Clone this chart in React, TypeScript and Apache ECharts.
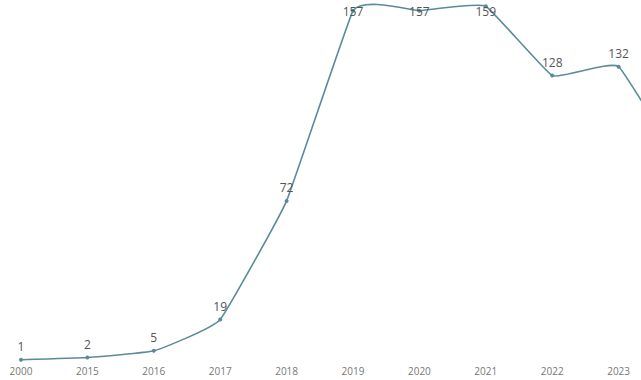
import React, { useEffect, useRef } from "react";
import * as echarts from "echarts";

const years = ["2000", "2015", "2016", "2017", "2018", "2019", "2020", "2021", "2022", "2023", "2024"];
const counts = [1, 2, 5, 19, 72, 157, 157, 159, 128, 132, 85];

const LINE_COLOR = "#5a8b9a";
const SMOOTH = 0.1;
const LABEL_CENTER_MIN = 11; // labels never rise above this centre line

type Pt = number[];

// Spline through the points: the tangent at each point follows its two
// neighbours, and each handle is scaled by the length of the opposite segment.
function smoothPath(points: Pt[], smooth: number): string {
  if (!points.length) return "";
  let d = `M${points[0][0]},${points[0][1]}`;
  let cp0: Pt = points[0].slice();
  for (let i = 1; i < points.length; i++) {
    const p = points[i];
    const prev = points[i - 1];
    const next = points[i + 1];
    let cp1: Pt;
    let nextCp0: Pt = p.slice();
    if (next) {
      const vx = next[0] - prev[0];
      const vy = next[1] - prev[1];
      const lp = Math.hypot(p[0] - prev[0], p[1] - prev[1]);
      const ln = Math.hypot(next[0] - p[0], next[1] - p[1]);
      const sum = lp + ln || 1;
      const kin = (smooth * ln) / sum;
      const kout = (smooth * lp) / sum;
      cp1 = [p[0] - vx * kin, p[1] - vy * kin];
      nextCp0 = [p[0] + vx * kout, p[1] + vy * kout];
    } else {
      cp1 = p.slice();
    }
    d += ` C${cp0[0]},${cp0[1]} ${cp1[0]},${cp1[1]} ${p[0]},${p[1]}`;
    cp0 = nextCp0;
  }
  return d;
}

export default function App() {
  const ref = useRef<HTMLDivElement>(null);

  useEffect(() => {
    if (!ref.current) return;
    const chart = echarts.init(ref.current, null, { renderer: "svg" });
    chart.setOption({
      animation: false,
      backgroundColor: "#ffffff",
      grid: { left: 21, right: 35, top: 4, bottom: 18, containLabel: false },
      xAxis: {
        type: "category",
        data: years,
        boundaryGap: false,
        axisLine: { show: false },
        axisTick: { show: false },
        axisLabel: {
          color: "#777777",
          fontSize: 10,
          margin: 4,
          fontFamily: "Open Sans",
          interval: 0,
        },
      },
      yAxis: {
        type: "value",
        min: 0,
        max: 160,
        show: false,
        splitLine: { show: false },
      },
      series: [
        {
          type: "custom",
          coordinateSystem: "cartesian2d",
          data: [[0, 0]],
          z: 1,
          silent: true,
          renderItem: (_params: any, api: any) => {
            const pts = counts.map((v, i) => api.coord([i, v]));
            return {
              type: "path",
              shape: { pathData: smoothPath(pts, SMOOTH) },
              style: { fill: "none", stroke: LINE_COLOR, lineWidth: 1.6 },
            };
          },
        },
        {
          type: "line",
          z: 2,
          data: counts,
          symbol: "circle",
          symbolSize: 4,
          lineStyle: { width: 0, opacity: 0 },
          itemStyle: { color: LINE_COLOR },
          label: {
            show: true,
            position: "top",
            color: "#555555",
            fontSize: 12,
            fontFamily: "Open Sans",
          },
          labelLayout: (params: any) => {
            const r = params.labelRect;
            const minTop = LABEL_CENTER_MIN - r.height / 2;
            return r.y < minTop ? { dy: minTop - r.y } : {};
          },
        },
      ],
    });
    return () => chart.dispose();
  }, []);

  return (
    <div
      ref={ref}
      style={{ position: "fixed", left: 0, top: 0, width: 720, height: 380 }}
    />
  );
}
